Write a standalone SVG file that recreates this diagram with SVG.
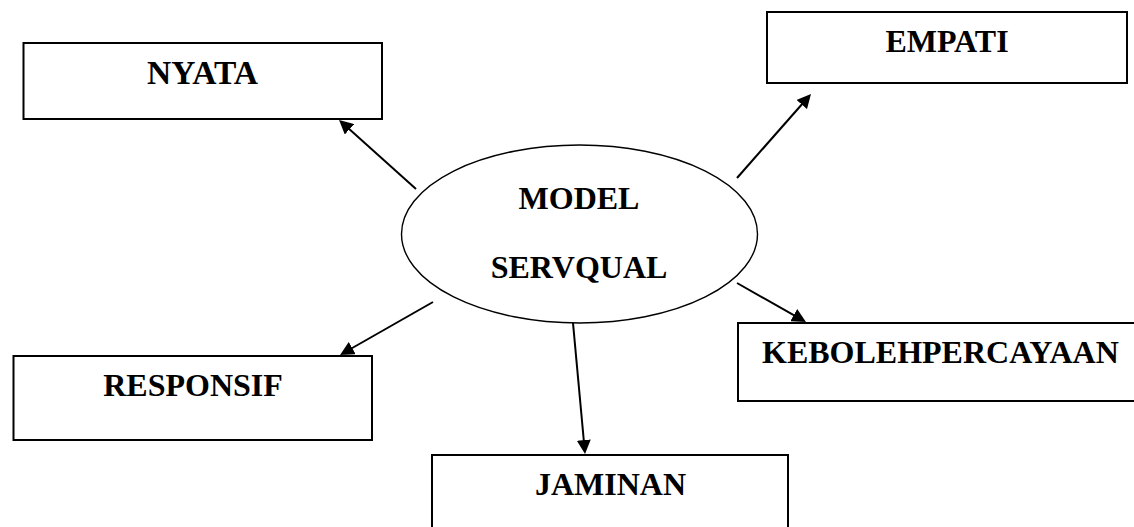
<svg xmlns="http://www.w3.org/2000/svg" width="1134" height="527" viewBox="0 0 1134 527">
<style>
.box{fill:#fff;stroke:#000;stroke-width:2}
.lbl{font-family:"Liberation Serif","Times New Roman",serif;font-weight:bold;font-size:32px;fill:#000}
.c{text-anchor:middle}
.con{stroke:#000;stroke-width:2;fill:none;marker-end:url(#ah)}
</style>
<defs>
<marker id="ah" viewBox="0 0 14 14" refX="6" refY="7" markerWidth="14" markerHeight="14" markerUnits="userSpaceOnUse" orient="auto">
<path d="M0,0 L14,7 L0,14 z" fill="#000"/>
</marker>
</defs>
<rect width="1134" height="527" fill="#fff"/>
<g id="nyata"><rect class="box" x="23.5" y="43" width="358.5" height="76"/><text class="lbl c" x="202.5" y="84" style="font-size:33.5px">NYATA</text></g>
<g id="empati"><rect class="box" x="767" y="12" width="360" height="71"/><text class="lbl c" x="947" y="52">EMPATI</text></g>
<g id="model"><ellipse cx="579.5" cy="234" rx="178" ry="89" fill="#fff" stroke="#000" stroke-width="1.4"/><text class="lbl c" x="579" y="209">MODEL</text><text class="lbl c" x="579" y="278">SERVQUAL</text></g>
<g id="responsif"><rect class="box" x="13.5" y="356" width="358.5" height="84"/><text class="lbl c" x="193" y="396">RESPONSIF</text></g>
<g id="kebolehpercayaan"><rect class="box" x="738" y="323" width="410" height="78"/><text class="lbl" x="762" y="363">KEBOLEHPERCAYAAN</text></g>
<g id="jaminan"><rect class="box" x="432" y="455" width="356" height="100"/><text class="lbl c" x="610.5" y="495">JAMINAN</text></g>
<g id="connectors">
<line class="con" x1="416" y1="189" x2="345" y2="125.3"/>
<line class="con" x1="737" y1="178" x2="805.7" y2="100"/>
<line class="con" x1="433" y1="302" x2="347" y2="351"/>
<line class="con" x1="737" y1="283" x2="799" y2="318.1"/>
<line class="con" x1="573" y1="323" x2="584.3" y2="446"/>
</g>
</svg>
